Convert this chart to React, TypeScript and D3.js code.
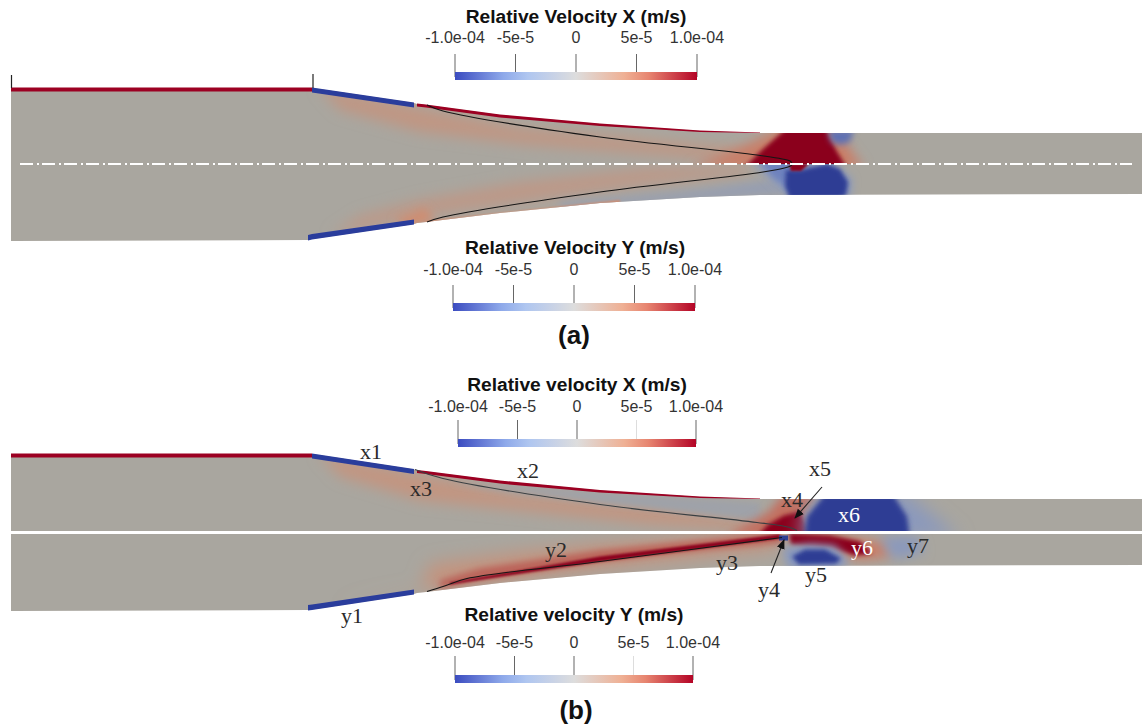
import React from 'react';
import * as d3 from 'd3';

const W = 1142;
const H = 727;

// wall profile: axial stations and radial offset from the centreline
const stations = [11, 308, 312, 414, 417, 426, 500, 600, 700, 760, 1142];
const aUpperWall = [-76, -76, -76, -61, -60, -59, -49, -40, -33, -31, -31];
const aLowerWall = [77, 76, 75, 60, 59, 58, 49, 39, 33, 31, 30];
const bUpperWall = [-78.5, -78.5, -78.5, -63, -62, -61, -51.5, -42, -35.5, -33.5, -33.5];
const bLowerWall = [78.5, 77.5, 77, 61.5, 60.5, 59.5, 50.5, 41.5, 35.5, 33.5, 32.5];

// colorbar
const barTicks = [-1e-4, -5e-5, 0, 5e-5, 1e-4];
const barLabels = ['-1.0e-04', '-5e-5', '0', '5e-5', '1.0e-04'];

// velocity patches, value in m/s, outline as [axial, radial]
type Pts = [number, number][];
const aTopBand: Pts = [[318, -78], [420, -56], [520, -36], [650, -24], [750, -14], [750, -2], [650, -10], [520, -20], [420, -32], [340, -54]];
const aBottomBand: Pts = [[330, 72], [420, 52], [520, 38], [650, 20], [750, 10], [750, 2], [650, 4], [520, 18], [420, 36], [360, 52]];
const aBottomSpot: Pts = [[395, 56], [425, 44], [435, 56], [405, 64]];
const aBottomBlue: Pts = [[560, 39], [680, 28], [770, 16], [790, 30], [680, 38], [560, 46]];
const aBottomEdge: Pts = [[426, 57], [620, 36], [620, 40], [426, 61]];
const aCoreHalo: Pts = [[690, 4], [740, -16], [780, -36], [836, -36], [852, -12], [864, 4]];
const aCore: Pts = [[744, 4], [762, -14], [787, -36], [826, -36], [836, -14], [847, 4]];
const aCap: Pts = [[828, -34], [854, -34], [850, -22], [840, -19], [831, -22]];
const aBlueHalo: Pts = [[752, -2], [790, -2], [830, -2], [852, 15], [850, 34], [790, 34], [772, 16]];
const aBlueWedge: Pts = [[760, -3], [790, -3], [790, 24], [773, 13]];
const aBlueCore: Pts = [[786, 6], [800, 6], [827, 0], [840, 5], [848, 18], [846, 31], [838, 36], [790, 36], [785, 22]];
const aNub: Pts = [[789, 0], [809, 0], [801, 7], [791, 7]];

const bTopBand: Pts = [[318, -80], [420, -58], [520, -38], [650, -26], [750, -13], [750, -2], [650, -8], [520, -22], [420, -32], [340, -56]];
const bTopWedge: Pts = [[450, -50], [600, -40], [760, -30], [760, -12], [600, -30]];
const bCoreHalo: Pts = [[725, 4], [768, -20], [783, -38], [816, -38], [803, -15], [806, 4]];
const bCore: Pts = [[755, 6], [768, -8], [784, -17], [800, -21], [806, -8], [807, 6]];
const bX6Halo: Pts = [[800, 6], [805, -20], [825, -40], [905, -40], [930, -20], [960, 6]];
const bX6: Pts = [[804, 6], [807, -16], [825, -38], [893, -38], [907, -16], [910, 6]];
const bFan: Pts = [[335, 72], [420, 60], [430, 32], [520, 20], [600, 12], [780, -2], [780, 16], [600, 36], [500, 48], [420, 58]];
const bY2Halo: Pts = [[440, 48], [480, 36], [600, 18], [700, 8], [782, 0], [782, 10], [700, 18], [600, 29], [480, 47], [440, 56]];
const bY2Core: Pts = [[450, 50], [600, 24], [780, 2], [780, 6], [600, 29], [450, 52]];
const bY6Halo: Pts = [[790, 0], [835, 2], [885, 10], [892, 24], [860, 28], [800, 12]];
const bY6: Pts = [[789, 1], [830, 3], [860, 9], [872, 21], [855, 23], [830, 15], [791, 12]];
const bY5Halo: Pts = [[783, 16], [810, 11], [835, 13], [848, 28], [842, 36], [788, 36]];
const bY5: Pts = [[792, 24], [805, 17], [825, 17], [841, 26], [836, 31], [799, 32]];
const bY7: Pts = [[880, 4], [918, 4], [924, 20], [893, 27]];
const bY4: Pts = [[779, 3], [788, 3], [788, 8], [779, 8]];

// thin black profile lines
const aTopLine: Pts = [[427, -59], [443, -53], [600, -27], [757, -9], [790, -3], [792, -1]];
const aBottomLine: Pts = [[427, 58], [443, 53], [600, 28], [763, 8], [788, 3], [792, 1]];
const bTopLine: Pts = [[415, -63], [443, -54], [600, -28], [757, -10], [790, -5], [797, -2]];
const bBottomLine: Pts = [[427, 59], [443, 54], [467, 46], [600, 29], [782, 5]];

const xScale = d3.scaleLinear().domain([0, W]).range([0, W]);

const fieldColor = d3
  .scaleLinear<string>()
  .domain([-1e-4, -5e-5, 0, 5e-5, 1e-4])
  .range(['#2d3c94', '#7e94c8', '#a9a69f', '#d08c70', '#8b001f'])
  .clamp(true);

const barColor = d3
  .scaleLinear<string>()
  .domain([-1e-4, -5e-5, 0, 5e-5, 1e-4])
  .range(['#3b4cc0', '#a3c0f5', '#dddddd', '#f4a582', '#b40426']);

const blurLevels = [0.6, 1, 2, 2.5, 3, 4, 5, 6, 7, 9];

function Colorbar({ title, cx, titleY, labelY, tickY, barY, x0, x1, id, faint }: any) {
  const s = d3.scaleLinear().domain([-1e-4, 1e-4]).range([x0, x1]);
  return (
    <g>
      <defs>
        <linearGradient id={id}>
          {d3.range(0, 1.01, 0.1).map(t => (
            <stop key={t} offset={t} stopColor={barColor(-1e-4 + 2e-4 * t)} />
          ))}
        </linearGradient>
      </defs>
      <text x={cx} y={titleY} textAnchor="middle" fontFamily="Liberation Sans" fontWeight="bold" fontSize={19.2} fill="#111">
        {title}
      </text>
      {barTicks.map((t, i) => (
        <g key={t}>
          <line x1={s(t)} x2={s(t)} y1={tickY} y2={barY + 5} stroke="#555" strokeOpacity={faint && i === 3 ? 0.2 : 0.9} />
          <text x={s(t)} y={labelY} textAnchor="middle" fontFamily="Liberation Sans" fontSize={16} fill="#333">
            {barLabels[i]}
          </text>
        </g>
      ))}
      <rect x={x0} y={barY} width={x1 - x0} height={8} fill={`url(#${id})`} />
    </g>
  );
}

function Patches({ list, yScale, clip }: any) {
  const path = d3
    .line<[number, number]>()
    .x(d => xScale(d[0]))
    .y(d => yScale(d[1]))
    .curve(d3.curveLinearClosed);
  return (
    <g clipPath={`url(#${clip})`}>
      {list.map((p: any, i: number) => (
        <path key={i} d={path(p.pts) || ''} fill={fieldColor(p.v)} filter={`url(#blur${p.blur})`} />
      ))}
    </g>
  );
}

function Nozzle({ id, center, upper, lower, gap, topPatches, bottomPatches, topLine, bottomLine, topLineColor }: any) {
  const yScale = d3.scaleLinear().domain([-100, 100]).range([center - 100, center + 100]);
  const idx = d3.range(stations.length);
  const halfUpper = d3
    .area<number>()
    .x(i => xScale(stations[i]))
    .y0(() => yScale(-gap))
    .y1(i => yScale(upper[i]));
  const halfLower = d3
    .area<number>()
    .x(i => xScale(stations[i]))
    .y0(() => yScale(gap))
    .y1(i => yScale(lower[i]));

  // wall stripes, sit just inside the wall
  const stripe = (wall: number[], from: number, to: number, thick: number[], sign: number) =>
    d3
      .area<number>()
      .x(i => xScale(stations[i]))
      .y0(i => yScale(wall[i] - sign * 0.5))
      .y1((i, k) => yScale(wall[i] + sign * thick[k]))(d3.range(from, to + 1)) || '';

  const thin = d3
    .line<[number, number]>()
    .x(d => xScale(d[0]))
    .y(d => yScale(d[1]))
    .curve(d3.curveCatmullRom);

  return (
    <g>
      <defs>
        <clipPath id={`${id}Top`}>
          <path d={halfUpper(idx) || ''} />
        </clipPath>
        <clipPath id={`${id}Bottom`}>
          <path d={halfLower(idx) || ''} />
        </clipPath>
      </defs>
      <path d={halfUpper(idx) || ''} fill={fieldColor(0)} />
      <path d={halfLower(idx) || ''} fill={fieldColor(0)} />
      <Patches list={topPatches} yScale={yScale} clip={`${id}Top`} />
      <Patches list={bottomPatches} yScale={yScale} clip={`${id}Bottom`} />

      <g filter="url(#blur0.6)">
        <path d={stripe(upper, 0, 2, [3.5, 3.5, 3.5], 1)} fill="#9c0522" />
        <path d={stripe(upper, 2, 3, [4.5, 4.5], 1)} fill="#2b3c9c" />
        <path d={stripe(upper, 4, 9, [2.6, 2.6, 2.6, 2, 1.1, 0], 1)} fill="#9c0522" />
        <path d={stripe(lower, 1, 3, [5, 5, 4.5], -1)} fill="#2b3c9c" />
      </g>
      <g fill="none" strokeWidth={1.1}>
        <path d={thin(topLine) || ''} stroke={topLineColor} />
        <path d={thin(bottomLine) || ''} stroke="#151515" />
      </g>
    </g>
  );
}

const serif = { fontFamily: 'Liberation Serif', fontSize: 22, fill: '#2a2a2a', textAnchor: 'middle' as const };
const labelsDark: [string, number, number][] = [
  ['x1', 371, 459],
  ['x3', 421, 496],
  ['x2', 528, 478],
  ['x4', 792, 507],
  ['x5', 820, 476],
  ['y1', 352, 623],
  ['y2', 556, 557],
  ['y3', 727, 570],
  ['y4', 769, 597],
  ['y5', 816, 582],
  ['y7', 918, 553],
];
const labelsLight: [string, number, number][] = [
  ['x6', 849, 522],
  ['y6', 862, 555],
];

export default function App() {
  const aTop = [
    { pts: aTopBand, v: 3e-5, blur: 7 },
    { pts: aCoreHalo, v: 5.5e-5, blur: 6 },
    { pts: aCore, v: 1e-4, blur: 2 },
    { pts: aCap, v: -7e-5, blur: 3 },
  ];
  const aBottom = [
    { pts: aBottomBand, v: 2.6e-5, blur: 7 },
    { pts: aBottomSpot, v: 5e-5, blur: 5 },
    { pts: aBottomBlue, v: -2.2e-5, blur: 5 },
    { pts: aBottomEdge, v: 5e-5, blur: 1 },
    { pts: aBlueHalo, v: -4e-5, blur: 4 },
    { pts: aBlueWedge, v: -6e-5, blur: 3 },
    { pts: aBlueCore, v: -1e-4, blur: 2 },
    { pts: aNub, v: 1e-4, blur: 1 },
  ];
  const bTop = [
    { pts: bTopBand, v: 3.2e-5, blur: 7 },
    { pts: bTopWedge, v: -1.2e-5, blur: 3 },
    { pts: bCoreHalo, v: 6e-5, blur: 5 },
    { pts: bCore, v: 1e-4, blur: 2 },
    { pts: bX6Halo, v: -3.5e-5, blur: 9 },
    { pts: bX6, v: -1e-4, blur: 2.5 },
  ];
  const bBottom = [
    { pts: bFan, v: 3.6e-5, blur: 9 },
    { pts: bY2Halo, v: 6.5e-5, blur: 3 },
    { pts: bY2Core, v: 1e-4, blur: 1 },
    { pts: bY6Halo, v: 5.5e-5, blur: 6 },
    { pts: bY6, v: 1e-4, blur: 2 },
    { pts: bY5Halo, v: -4e-5, blur: 4 },
    { pts: bY5, v: -1e-4, blur: 2 },
    { pts: bY7, v: -3.5e-5, blur: 6 },
    { pts: bY4, v: -1e-4, blur: 0.6 },
  ];

  return (
    <svg
      width={W}
      height={H}
      viewBox={`0 0 ${W} ${H}`}
      style={{ position: 'absolute', left: 0, top: 0, background: '#fff', display: 'block' }}
    >
      <defs>
        {blurLevels.map(b => (
          <filter key={b} id={`blur${b}`} filterUnits="userSpaceOnUse" x={0} y={0} width={W} height={H}>
            <feGaussianBlur stdDeviation={b} />
          </filter>
        ))}
        <marker id="arrow" viewBox="0 0 10 10" refX="9" refY="5" markerWidth="9" markerHeight="9" orient="auto">
          <path d="M0,1 L10,5 L0,9 Z" fill="#111" />
        </marker>
      </defs>

      <Nozzle
        id="panelA"
        center={164}
        upper={aUpperWall}
        lower={aLowerWall}
        gap={0}
        topPatches={aTop}
        bottomPatches={aBottom}
        topLine={aTopLine}
        bottomLine={aBottomLine}
        topLineColor="#151515"
      />
      <line x1={20} x2={1132} y1={164} y2={164} stroke="#fff" strokeWidth={1.8} strokeDasharray="13 4 2 3" />
      <line x1={11.5} x2={11.5} y1={75} y2={88} stroke="#222" strokeWidth={1.2} />
      <line x1={313} x2={313} y1={74} y2={88} stroke="#222" strokeWidth={1.2} />

      <Nozzle
        id="panelB"
        center={532.5}
        upper={bUpperWall}
        lower={bLowerWall}
        gap={1.5}
        topPatches={bTop}
        bottomPatches={bBottom}
        topLine={bTopLine}
        bottomLine={bBottomLine}
        topLineColor="#3a3f42"
      />

      <Colorbar id="barA1" title="Relative Velocity X (m/s)" cx={576} titleY={23} labelY={43} tickY={54} barY={72} x0={455} x1={697} />
      <Colorbar id="barA2" title="Relative Velocity Y (m/s)" cx={575} titleY={254} labelY={275} tickY={285} barY={303} x0={453} x1={695} />
      <Colorbar id="barB1" title="Relative velocity X (m/s)" cx={577} titleY={391} labelY={412} tickY={420} barY={439} x0={458} x1={696} faint />
      <Colorbar id="barB2" title="Relative velocity Y (m/s)" cx={574} titleY={621} labelY={648} tickY={656} barY={675} x0={455} x1={693} faint />

      <text x={574} y={344} textAnchor="middle" fontFamily="Liberation Sans" fontWeight="bold" fontSize={26} fill="#111">
        (a)
      </text>
      <text x={576} y={719} textAnchor="middle" fontFamily="Liberation Sans" fontWeight="bold" fontSize={26} fill="#111">
        (b)
      </text>

      {labelsDark.map(([t, x, y]) => (
        <text key={t} x={x} y={y} {...serif}>
          {t}
        </text>
      ))}
      {labelsLight.map(([t, x, y]) => (
        <text key={t} x={x} y={y} {...serif} fill="#fff">
          {t}
        </text>
      ))}

      <line x1={822} y1={487} x2={795} y2={518} stroke="#222" strokeWidth={1.1} markerEnd="url(#arrow)" />
      <line x1={771} y1={573} x2={784} y2={540} stroke="#222" strokeWidth={1.1} markerEnd="url(#arrow)" />
    </svg>
  );
}
